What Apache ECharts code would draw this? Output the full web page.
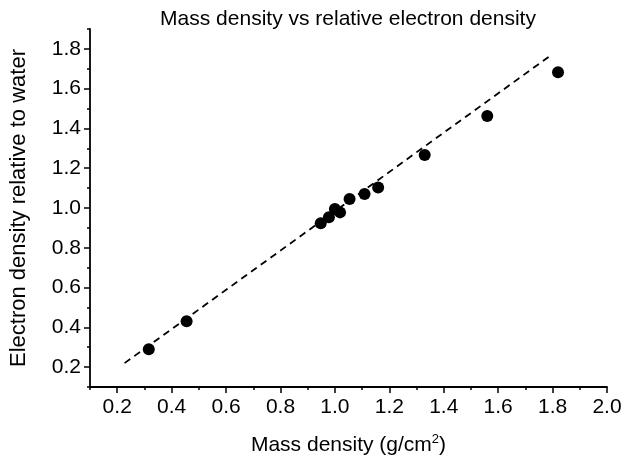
<!DOCTYPE html>
<html>
<head>
<meta charset="utf-8">
<script src="https://cdn.jsdelivr.net/npm/echarts@6/dist/echarts.min.js"></script>
<style>html,body{margin:0;padding:0;background:#fff}#c{width:626px;height:461px}</style>
</head>
<body>
<div id="c"></div>
<script>
// Data
const massDensity = [0.316, 0.455, 0.948, 0.978, 1.000, 1.019, 1.054, 1.109, 1.159, 1.330, 1.560, 1.820];
const electronDensity = [0.29, 0.43, 0.923, 0.953, 0.995, 0.978, 1.045, 1.07, 1.103, 1.267, 1.463, 1.683];
const fitX = [0.227, 1.794];
const fitY = [0.22, 1.768];
const xTicks = [0.2, 0.4, 0.6, 0.8, 1.0, 1.2, 1.4, 1.6, 1.8, 2.0];
const xMinorTicks = [0.1, 0.3, 0.5, 0.7, 0.9, 1.1, 1.3, 1.5, 1.7, 1.9];
const yTicks = [0.2, 0.4, 0.6, 0.8, 1.0, 1.2, 1.4, 1.6, 1.8];
const yMinorTicks = [0.1, 0.3, 0.5, 0.7, 0.9, 1.1, 1.3, 1.5, 1.7, 1.9];

const FONT = 'Liberation Sans, Arial, sans-serif';
const chart = echarts.init(document.getElementById('c'));
const baseAxis = (extra) => Object.assign({
  type: 'value', min: 0.1, max: 2.0,
  splitLine: { show: false },
  axisLine: { show: true, onZero: false, lineStyle: { color: '#000', width: 1.8 } }
}, extra);

chart.setOption({
  animation: false,
  title: {
    text: 'Mass density vs relative electron density',
    left: 343, top: 4, textAlign: 'center',
    textStyle: { fontFamily: FONT, fontSize: 21, fontWeight: 'normal', color: '#000' }
  },
  grid: { left: 88, right: 19, top: 29, bottom: 73 },
  xAxis: [
    baseAxis({
      position: 'bottom',
      axisTick: { show: true, length: 6, customValues: xTicks, lineStyle: { color: '#000', width: 1.5 } },
      axisLabel: { customValues: xTicks, formatter: v => v.toFixed(1), margin: 10,
        fontFamily: FONT, fontSize: 21, color: '#000' },
      name: 'Mass density (g/cm{s|2})',
      nameLocation: 'middle', nameGap: 46,
      nameTextStyle: { fontFamily: FONT, fontSize: 21, color: '#000',
        rich: { s: { fontFamily: FONT, fontSize: 13, color: '#000', verticalAlign: 'top', padding: [0,0,12,0] } } }
    }),
    baseAxis({
      position: 'bottom',
      axisLine: { show: false, onZero: false },
      axisTick: { show: true, length: 3, customValues: xMinorTicks, lineStyle: { color: '#000', width: 1.5 } },
      axisLabel: { show: false }
    })
  ],
  yAxis: [
    baseAxis({
      max: 1.9,
      position: 'left',
      axisTick: { show: true, length: 6, customValues: yTicks, lineStyle: { color: '#000', width: 1.5 } },
      axisLabel: { customValues: yTicks, formatter: v => v.toFixed(1), margin: 9,
        fontFamily: FONT, fontSize: 21, color: '#000' },
      name: 'Electron density relative to water',
      nameLocation: 'middle', nameGap: 60,
      nameTextStyle: { fontFamily: FONT, fontSize: 22, color: '#000' }
    }),
    baseAxis({
      max: 1.9,
      position: 'left',
      axisLine: { show: false, onZero: false },
      axisTick: { show: true, length: 3, customValues: yMinorTicks, lineStyle: { color: '#000', width: 1.5 } },
      axisLabel: { show: false }
    })
  ],
  series: [
    {
      type: 'line',
      data: fitX.map((x, i) => [x, fitY[i]]),
      symbol: 'none',
      lineStyle: { color: '#000', width: 1.8, type: [7, 5] },
      z: 1
    },
    {
      type: 'scatter',
      data: massDensity.map((x, i) => [x, electronDensity[i]]),
      symbol: 'circle', symbolSize: 12,
      itemStyle: { color: '#000', opacity: 1 },
      z: 2
    }
  ]
});
</script>
</body>
</html>
